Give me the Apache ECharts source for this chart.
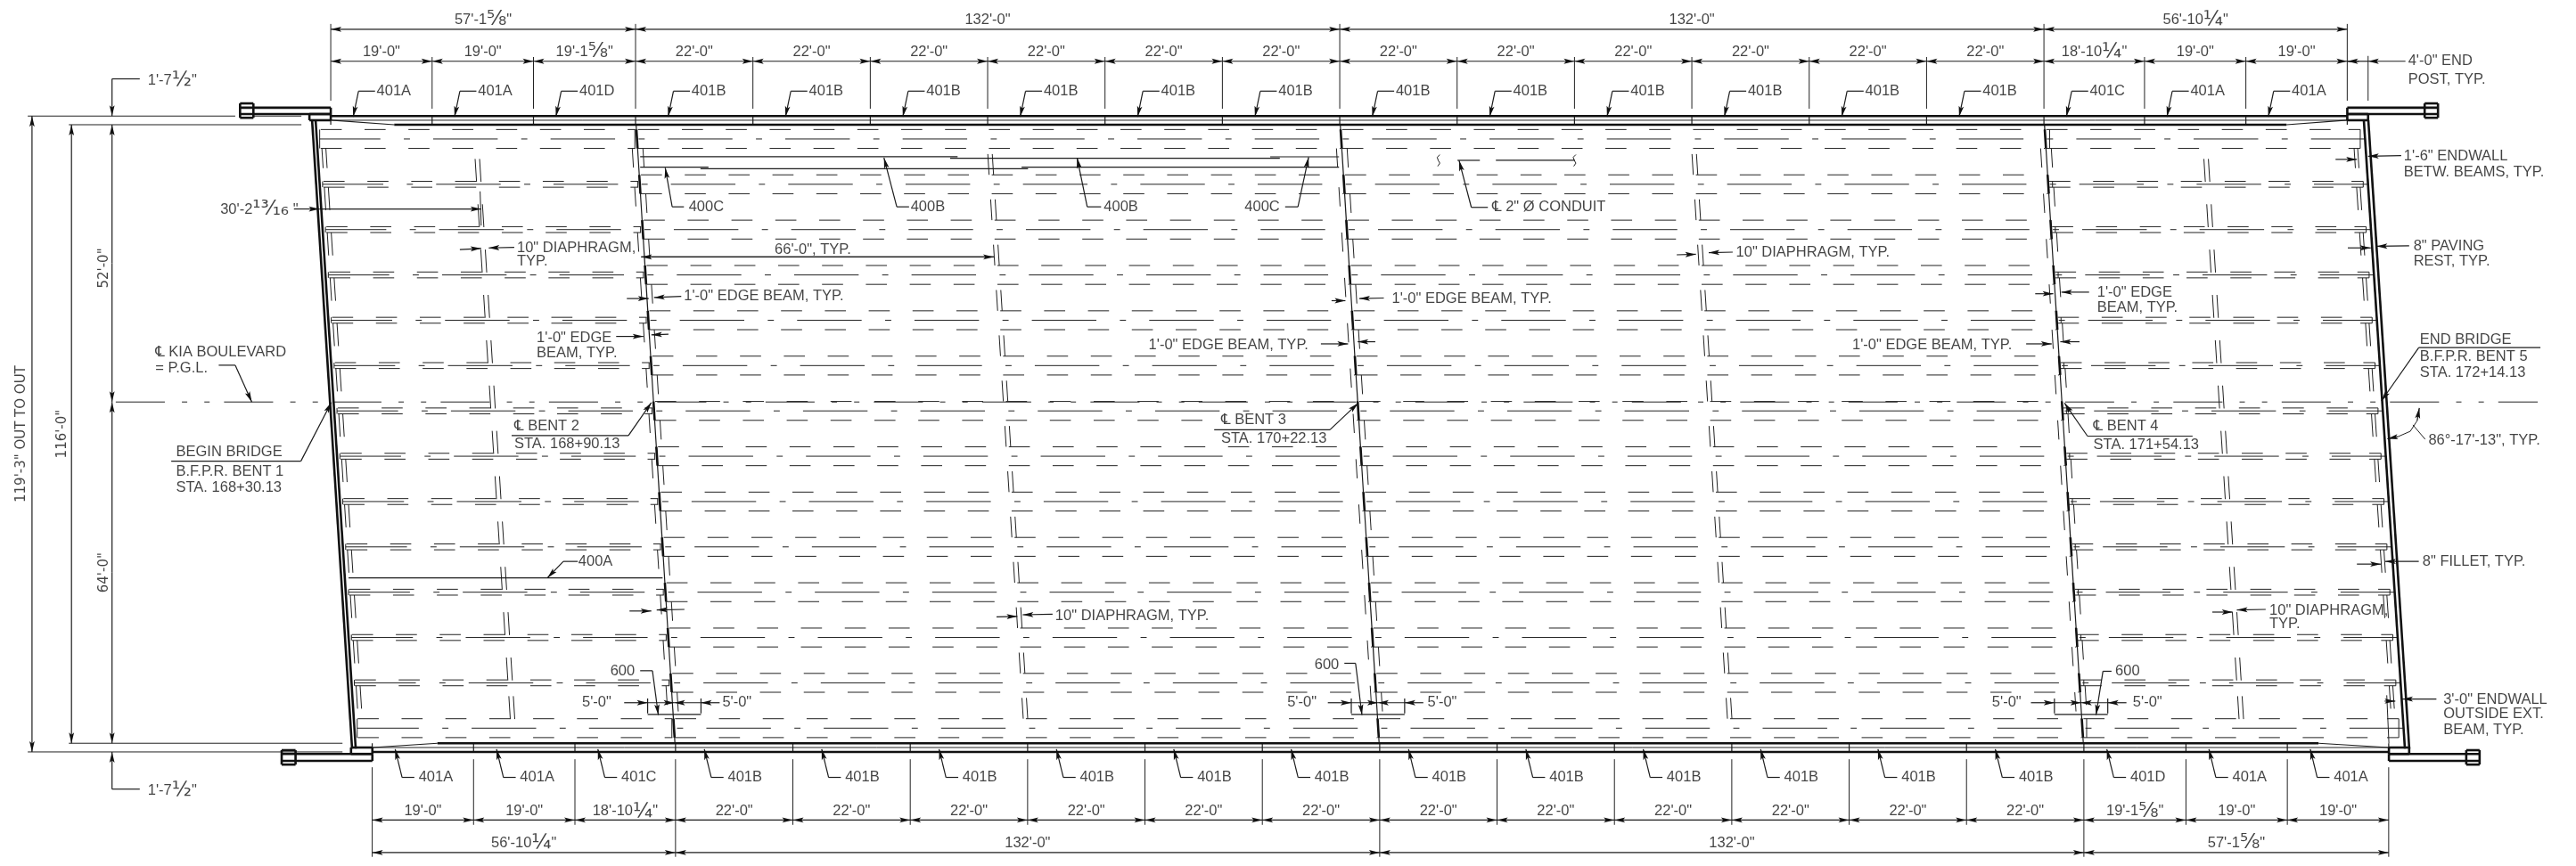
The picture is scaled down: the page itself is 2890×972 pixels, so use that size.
<!DOCTYPE html>
<html><head><meta charset="utf-8">
<style>html,body{margin:0;padding:0;background:#fff}#c{width:2890px;height:972px}</style>
<script src="https://cdn.jsdelivr.net/npm/echarts@6/dist/echarts.min.js"></script>
</head><body><div id="c"></div>
<script>
// All values are in feet on the drawing: x along the bridge from the north-west deck corner, y across it.
const topSpans=[19,19,19.135,22,22,22,22,22,22,22,22,22,22,22,22,18.854,19,19];
const bottomSpans=[19,19,18.854,22,22,22,22,22,22,22,22,22,22,22,22,19.135,19,19];
const topMarks=['401A','401A','401D','401B','401B','401B','401B','401B','401B','401B','401B','401B','401B','401B','401B','401C','401A','401A'];
const bottomMarks=['401A','401A','401C','401B','401B','401B','401B','401B','401B','401B','401B','401B','401B','401B','401B','401D','401A','401A'];
const topSpanText=['19\'-0"','19\'-0"','19\'-1⅝"','22\'-0"','22\'-0"','22\'-0"','22\'-0"','22\'-0"','22\'-0"','22\'-0"','22\'-0"','22\'-0"','22\'-0"','22\'-0"','22\'-0"','18\'-10¼"','19\'-0"','19\'-0"'];
const bottomSpanText=['19\'-0"','19\'-0"','18\'-10¼"','22\'-0"','22\'-0"','22\'-0"','22\'-0"','22\'-0"','22\'-0"','22\'-0"','22\'-0"','22\'-0"','22\'-0"','22\'-0"','22\'-0"','19\'-1⅝"','19\'-0"','19\'-0"'];
const topUnits=[57.135,132,132,56.854];
const bottomUnits=[56.854,132,132,57.135];
const topUnitText=['57\'-1⅝"','132\'-0"','132\'-0"','56\'-10¼"'];
const bottomUnitText=['56\'-10¼"','132\'-0"','132\'-0"','57\'-1⅝"'];
const bottomStart=7.77;
const bentTop=[57.135,189.135,321.135];
const bentBottom=[64.62,196.62,328.62];
const beamRows=[2.67,11.17,19.67,28.17,36.67,45.17,53.67,62.17,70.67,79.17,87.67,96.17,104.67,113.17];
const leftFace=[-3.5,4.0];
const rightFace=[381.1,388.8];
const barLines=[[58,117.5,6],[58,70.8,7.97],[69.3,130.7,8.24],[116.1,177.9,6.3],[129.5,189,7.97],[176.1,189,6.02],[3.34,62.2,85],[211.2,215.4,6.68],[218.4,233.2,6.68]];
const detailCentres=[64.4,196.3,328.1];
const detailLabels=[[47.1,108.4,'5\'-0"'],[73.4,108.4,'5\'-0"'],[179.3,108.4,'5\'-0"'],[205.6,108.4,'5\'-0"'],[311.4,108.4,'5\'-0"'],[337.8,108.4,'5\'-0"']];
const notes=[
[-34.3,-8.35,'1\'-7½"'],[-34.3,124.9,'1\'-7½"'],[-20.7,15.9,'30\'-2¹³⁄₁₆ "'],[34.9,23.1,'10" DIAPHRAGM,'],[34.9,25.6,'TYP.'],
[66.2,32.2,'1\'-0" EDGE BEAM, TYP.'],[83.2,23.4,'66\'-0", TYP.'],[38.6,40,'1\'-0" EDGE'],[38.6,42.9,'BEAM, TYP.'],
[-32.9,42.7,'℄ KIA BOULEVARD'],[-32.9,45.7,'= P.G.L.'],[34.4,56.6,'℄ BENT 2'],[34.4,59.9,'STA. 168+90.13'],
[-29,61.4,'BEGIN BRIDGE'],[-29,65,'B.F.P.R. BENT 1'],[-29,68,'STA. 168+30.13'],[46.4,82,'400A'],
[52.4,102.5,'600'],[184.4,101.4,'600'],[334.5,102.5,'600'],
[108.7,15.5,'400B'],[144.9,15.5,'400B'],[171.3,15.5,'400C'],[67.1,15.5,'400C'],[217.7,15.5,'℄ 2" Ø CONDUIT'],
[198.9,32.6,'1\'-0" EDGE BEAM, TYP.'],[153.3,41.4,'1\'-0" EDGE BEAM, TYP.'],[166.9,55.4,'℄ BENT 3'],[166.9,58.9,'STA. 170+22.13'],
[135.8,92.1,'10" DIAPHRAGM, TYP.'],[263.4,23.9,'10" DIAPHRAGM, TYP.'],
[389.4,-11.9,'4\'-0" END'],[389.4,-8.5,'POST, TYP.'],[388.6,6,'1\'-6" ENDWALL'],[388.6,8.9,'BETW. BEAMS, TYP.'],
[390.4,22.8,'8" PAVING'],[390.4,25.7,'REST, TYP.'],[331.1,31.5,'1\'-0" EDGE'],[331.1,34.4,'BEAM, TYP.'],
[285.2,41.4,'1\'-0" EDGE BEAM, TYP.'],[391.6,40.4,'END BRIDGE'],[391.6,43.6,'B.F.P.R. BENT 5'],[391.6,46.5,'STA. 172+14.13'],
[330.4,56.6,'℄ BENT 4'],[330.4,60,'STA. 171+54.13'],[393.2,59.2,'86°-17\'-13", TYP.'],[392.1,82,'8" FILLET, TYP.'],
[363.4,91.1,'10" DIAPHRAGM,'],[363.4,93.7,'TYP.'],[396,107.8,'3\'-0" ENDWALL'],[396,110.6,'OUTSIDE EXT.'],[396,113.5,'BEAM, TYP.']
];
const verticalText=[[-57.9,58,'119\'-3" OUT TO OUT'],[-50.3,58,'116\'-0"'],[-42.5,26.9,'52\'-0"'],[-42.5,84,'64\'-0"']];
const leaders=[
[[-35.8,-8.6],[-41,-8.6],[-41,-1.625]],[[-35.8,124.6],[-41,124.6],[-41,117.625]],
[[-41,26],[-41,0]],[[-41,26],[-41,52]],[[-41,84],[-41,52]],[[-41,84],[-41,116]],
[[-48.6,58],[-48.6,0]],[[-48.6,58],[-48.6,116]],[[-56,58],[-56,-1.625]],[[-56,58],[-56,117.625]],
[[-6.9,15.8],[-2.1,15.8]],[[-2.1,15.8],[28.2,15.8]],
[[24.2,23.4],[28.2,23.2]],[[34.4,23],[29.6,23.1]],[[55.5,32.6],[59.6,32.6]],[[65.7,32.2],[60.6,32.4]],
[[124.3,24.8],[58.2,24.8]],[[58.2,24.8],[124.3,24.8]],
[[53.5,39.7],[58.6,39.7]],[[63.3,39.3],[60.1,39.4]],
[[-21,45.1],[-17.9,45.1],[-14.8,52]],[[33.9,58.3],[55.8,58.3],[60.1,52.1]],[[-29.9,63.1],[-5.6,63.1],[0.1,52.1]],
[[46.3,81.9],[43.6,81.9],[40.6,85]],[[56,91.2],[60.1,91.2]],[[66.3,90.9],[61.1,91]],
[[58,102.4],[60.3,102.4],[61.4,110.7]],[[190,101],[192.1,101],[193.3,110.7]],[[333.8,102.5],[332.2,102.5],[330.9,110.7]],
[[108.4,15.4],[106.1,15.4],[103.7,6.2]],[[144.4,15.4],[141.8,15.4],[139.9,6.2]],[[178.9,15.4],[181.3,15.4],[183.3,6.1]],
[[66.2,15.4],[64,15.4],[62.7,8.1]],[[216.9,15.5],[213.8,15.5],[211.5,6.7]],
[[187.6,33],[190.2,33]],[[197.4,32.5],[192.8,32.6]],[[185.6,41.1],[190.7,41.1]],[[195.8,40.7],[192.5,40.7]],
[[165.6,57.2],[187.3,57.2],[192.6,52.2]],[[124.8,92.3],[128.7,92.2]],[[135.3,91.8],[129.7,91.9]],
[[252.3,24.4],[255.9,24.3]],[[262.8,23.9],[258.3,24]],[[388.9,-11.9],[381.9,-11.9]],[[380.2,-11.9],[378,-11.9]],
[[375.8,6.5],[379.8,6.5]],[[388.1,5.8],[381.9,5.9]],[[378.1,23.1],[382.4,23.1]],[[389.6,22.7],[383.5,22.8]],
[[319.5,31.7],[322.9,31.7]],[[329.6,31.4],[324.4,31.4]],[[317.8,41.1],[322.6,41.1]],[[327.8,40.7],[324.2,40.7]],
[[414.2,41.8],[391.4,41.8],[384.4,51.8]],[[349,58.4],[329.3,58.4],[325,52.2]],
[[387.5,58.5],[385.5,58.9]],[[391.1,55.5],[391.5,53.1]],
[[379.8,82.4],[384.3,82.4]],[[391.4,81.9],[385.1,81.9]],[[352.7,91.4],[356.5,91.4]],[[362.7,90.9],[357.3,91]],
[[385,108.1],[387,108.1]],[[394.7,107.7],[388.3,107.7]]
];
const plainLines=[
[[28,12.5],[28.2,18.9]],[[391.1,55.5],[389.8,57.5],[387.5,58.5]],[[392.6,59],[390.3,56.3]],
[[385.4,107],[385.8,116]],
[[-56.8,-1.625],[-17.9,-1.625]],[[-14.5,-1.625],[-5.5,-1.625]],[[-49.1,0],[-5.5,0]],[[-49.1,116],[2.2,116]],[[-56.8,117.625],[2.2,117.625]],
[[207.9,5.6],[207.4,6.1],[207.6,6.7],[207.9,7.2],[207.5,7.8]],[[233.4,5.6],[232.9,6.1],[233.1,6.7],[233.4,7.2],[233,7.8]]
];
const rails=[
[[-17,-3.2],[0,-3.2],[0,-2],[-17,-2]],[[-17,-4],[-14.5,-4],[-14.5,-1.3],[-17,-1.3],[-17,-4]],[[-4,-2],[0,-2],[0,-0.84],[-4,-0.84],[-4,-2]],
[[395,-3.2],[378,-3.2],[378,-2],[395,-2]],[[392.5,-4],[395,-4],[395,-1.3],[392.5,-1.3],[392.5,-4]],[[378,-2],[381.9,-2],[381.9,-0.84],[378,-0.84],[378,-2]],
[[-9.2,118],[7.8,118],[7.8,119.3],[-9.2,119.3]],[[-9.2,117.3],[-6.6,117.3],[-6.6,120],[-9.2,120],[-9.2,117.3]],[[3.8,116.8],[7.8,116.8],[7.8,118],[3.8,118],[3.8,116.8]],
[[402.8,118],[385.8,118],[385.8,119.3],[402.8,119.3]],[[400.3,117.3],[402.8,117.3],[402.8,120],[400.3,120],[400.3,117.3]],[[385.8,116.8],[389.6,116.8],[389.6,118],[385.8,118],[385.8,116.8]]
];
// Stretch of beam 7's lower flange left open for the Bent 3 note.
const noteGap={row:6,from:165.6,to:187.3};

const thin=[],mid=[],thick=[],arrows=[];
const add=(l,a,b,c,d)=>l.push([a,b,c,d]);
const poly=(l,p)=>{for(let i=1;i<p.length;i++)add(l,p[i-1][0],p[i-1][1],p[i][0],p[i][1]);};
const leader=(p)=>{poly(mid,p);const n=p.length;arrows.push([p[n-1][0],p[n-1][1],p[n-2][0],p[n-2][1]]);};
const bentAt=(i,y)=>bentTop[i]+(bentBottom[i]-bentTop[i])*(y+1.625)/119.25;
const leftAt=y=>leftFace[0]+(leftFace[1]-leftFace[0])*(y+0.84)/117.84;
const rightAt=y=>rightFace[0]+(rightFace[1]-rightFace[0])*(y+0.84)/117.84;
const clipDash=(y,a,b,anchor,pitch,len,gap)=>{
  let p=anchor-Math.ceil((anchor-a)/pitch+1)*pitch;
  for(;p<b;p+=pitch){const s=Math.max(p,a),e=Math.min(p+len,b);
    if(gap&&e>gap.from&&s<gap.to)continue;
    if(e>s)add(thin,s,y,e,y);}
};
const flangeLen=3.95,flangePitch=8.22;

beamRows.forEach((y,r)=>{
  const edgeRow=r===0||r===beamRows.length-1;
  const off=edgeRow?1.77:0.55;
  const L=leftAt(y)+1.2,R=rightAt(y)-0.9;
  const b=[bentAt(0,y),bentAt(1,y),bentAt(2,y)];
  // flange dashes
  [-1,1].forEach(sg=>{
    const gap=(r===noteGap.row&&sg===1)?noteGap:null;
    clipDash(y+sg*off,L,b[0]-0.3,b[0]-1.75,flangePitch,flangeLen);
    clipDash(y+sg*1.77,b[0]+0.2,b[1]-0.1,b[0]+0.2,flangePitch,flangeLen,gap);
    clipDash(y+sg*1.77,b[1]+0.2,b[2]-0.1,b[1]+0.2,flangePitch,flangeLen);
    clipDash(y+sg*off,b[2]+0.2,R-2.5,b[2]+0.2,flangePitch,flangeLen);
    add(thin,R-2.2,y+sg*off,R,y+sg*off);
  });
  // end closures
  add(thin,L,y-off,L,y+off);
  add(thin,R,y-off,R,y+off);
  add(thin,b[0]-0.4,y-off,b[0]-0.4,y+off);
  add(thin,b[2]+0.8,y-off,b[2]+0.8,y+off);
  // dash-dot web line
  const start=19.2+0.0652*(y-2.67);
  const endX=rightAt(y)-0.1;
  for(let k=-3;k<20;k++){
    const p=start+22*k;
    const s=Math.max(p,L),e=Math.min(p+12.1,endX);
    if(e>s)add(thin,s,y,e,y);
    const d=p+16.5;
    if(d>L&&d+1.15<endX)add(thin,d,y,d+1.15,y);
  }
  // thick bent sections through the beams
  b.forEach((x,i)=>add(thick,bentAt(i,y-1.77),y-1.77,bentAt(i,y+1.77),y+1.77));
  // lines below each beam
  if(r<beamRows.length-1){
    const y0=y+off, y1=y0+(edgeRow?3.7:4.3);
    [1.5,2.25].forEach(d=>add(thin,leftAt(y0)+d,y0,leftAt(y1)+d,y1));
    [-2.17,-1.5].forEach(d=>add(thin,rightAt(y0)+d,y0,rightAt(y1)+d,y1));
    const next=beamRows[r+1];
    const lastGap=r===beamRows.length-2;
    b.forEach((_,i)=>{
      const ly0=i===2?y+1.77:y+off, ly1=ly0+3.6;
      add(thin,bentAt(i,ly0)-1,ly0,bentAt(i,ly1)-1,ly1);
      const ry0=i===2?y+off:y+1.77, ry1=ry0+3.6;
      add(thin,bentAt(i,ry0)+1,ry0,bentAt(i,ry1)+1,ry1);
    });
    // diaphragms
    const ye=next-(lastGap?1.7:0.45), ys=ye-4.3;
    const ye2=next-1.77, ys2=ye2-3.9;
    [-0.42,0.42].forEach(d=>{
      add(thin,bentAt(0,ys)-30.16+d,ys,bentAt(0,ye)-30.16+d,ye);
      add(thin,bentAt(0,ys2)+66+d,ys2,bentAt(0,ye2)+66+d,ye2);
      add(thin,bentAt(1,ys2)+66+d,ys2,bentAt(1,ye2)+66+d,ye2);
      add(thin,bentAt(2,ys)+29.9+d,ys,bentAt(2,ye)+29.9+d,ye);
    });
  }
});
// profile grade line
for(let k=-3;k<22;k++){
  const p=0.3+20.3*k;
  [[p,p+9.2],[p+12.4,p+13.4],[p+16.6,p+17.6]].forEach(s=>{
    const a=Math.max(s[0],-41.9),e=Math.min(s[1],413.7);
    if(e>a)add(thin,a,52,e,52);
  });
}
// bents and abutments
bentTop.forEach((x,i)=>add(mid,bentAt(i,-0.1),-0.1,bentAt(i,116),116));
add(thick,leftFace[0],-0.84,leftFace[1],117);add(thick,leftFace[0]+0.66,-0.84,leftFace[1]+0.68,117);
add(thick,rightFace[0],-0.84,rightFace[1],117);add(thick,rightFace[0]+0.84,-0.84,rightFace[1]+0.82,117);
// deck edges
add(thick,0,-1.625,378,-1.625);add(thin,0,-0.84,378,-0.84);add(thick,11.9,0,366.6,0);add(mid,0,-0.84,11.9,0);add(mid,366.6,0,378,-0.84);
add(thick,20,116,372.6,116);add(thin,7.8,116.8,385.8,116.8);add(thick,7.8,117.625,385.8,117.625);add(mid,7.8,116.8,20,116);add(mid,372.6,116,385.8,116.8);
rails.forEach(p=>poly(thick,p));
barLines.forEach(b=>add(mid,b[0],b[2],b[1],b[2]));
plainLines.forEach(p=>poly(thin,p));
leaders.forEach(leader);

// dimension strings and mark callouts
const spanLabels=[],unitLabels=[],leftLabels=notes.concat(detailLabels);
function dims(spans,start,units,spanTxt,unitTxt,marks,cfg){
  let x=start,u=start,xs=[start];
  spans.forEach((s,i)=>{
    add(mid,x,cfg.subY,x+s,cfg.subY);
    arrows.push([x,cfg.subY,x+s,cfg.subY],[x+s,cfg.subY,x,cfg.subY]);
    spanLabels.push([x+s/2,cfg.subT,spanTxt[i]]);
    const tip=x+(s<20?cfg.tipA:cfg.tipB);
    poly(mid,[[tip+cfg.endDx,cfg.markY],[tip+cfg.elbowDx,cfg.markY],[tip,cfg.tipY]]);
    arrows.push([tip,cfg.tipY,tip+cfg.elbowDx,cfg.markY]);
    leftLabels.push([tip+4.4,cfg.markY,marks[i]]);
    x+=s;xs.push(x);
  });
  const unitX=[start];
  units.forEach((w,i)=>{
    add(mid,u,cfg.mainY,u+w,cfg.mainY);
    arrows.push([u,cfg.mainY,u+w,cfg.mainY],[u+w,cfg.mainY,u,cfg.mainY]);
    unitLabels.push([u+w/2,cfg.mainT,unitTxt[i]]);
    u+=w;unitX.push(u);
  });
  xs.forEach((t,i)=>{
    const major=unitX.some(v=>Math.abs(v-t)<0.01),end=i===0||i===xs.length-1;
    add(thin,t,end?cfg.extE:cfg.extS,t,major?cfg.extM:cfg.extT);
    add(mid,t,cfg.bandA,t,cfg.bandB);
  });
}
dims(topSpans,0,topUnits,topSpanText,topUnitText,topMarks,{subY:-11.9,subT:-13.7,mainY:-17.9,mainT:-19.7,tipA:4.2,tipB:6.1,elbowDx:1,endDx:4.1,markY:-6.3,tipY:-1.5,extS:-3,extE:-4.5,extM:-18.9,extT:-12.7,bandA:-1.625,bandB:0});
dims(bottomSpans,bottomStart,bottomUnits,bottomSpanText,bottomUnitText,bottomMarks,{subY:130.4,subT:128.8,mainY:136.5,mainT:134.7,tipA:4.3,tipB:5.4,elbowDx:1.3,endDx:3.6,markY:122.4,tipY:117.1,extS:119,extE:120.5,extM:137.3,extT:131.3,bandA:116,bandB:117.625});
add(thin,381.9,-12.9,381.9,-4.5);
add(mid,378,-11.9,381.9,-11.9);
// bent reinforcement details
detailCentres.forEach(c=>{
  add(mid,c-5,108.4,c+5,108.4);
  add(mid,c-9.4,108.4,c-5,108.4);add(mid,c+5,108.4,c+8.5,108.4);
  add(mid,c-5,107.6,c-5,110.4);add(mid,c+5,107.6,c+5,110.4);
  add(mid,c-5,110.6,c+5,110.6);
  arrows.push([c-5,108.4,c-9.4,108.4],[c+5,108.4,c+8.5,108.4],[c,108.4,c-3,108.4],[c,108.4,c+3,108.4]);
});

const segSeries=(data,w,color)=>({type:'custom',coordinateSystem:'cartesian2d',clip:false,silent:true,animation:false,
  encode:{x:[0,2],y:[1,3]},data:data,
  renderItem:(p,api)=>{const a=api.coord([api.value(0),api.value(1)]),b=api.coord([api.value(2),api.value(3)]);
    return {type:'line',shape:{x1:a[0],y1:a[1],x2:b[0],y2:b[1]},style:{stroke:color,lineWidth:w,fill:null}};}});
const arrowSeries={type:'custom',coordinateSystem:'cartesian2d',clip:false,silent:true,animation:false,
  encode:{x:[0,2],y:[1,3]},data:arrows,
  renderItem:(p,api)=>{const t=api.coord([api.value(0),api.value(1)]),f=api.coord([api.value(2),api.value(3)]);
    let dx=f[0]-t[0],dy=f[1]-t[1];const d=Math.hypot(dx,dy)||1;dx/=d;dy/=d;
    const L=12,H=2.9,bx=t[0]+dx*L,by=t[1]+dy*L,nx=t[0]+dx*(L-2.5),ny=t[1]+dy*(L-2.5);
    return {type:'polygon',shape:{points:[t,[bx-dy*H,by+dx*H],[nx,ny],[bx+dy*H,by-dx*H]]},style:{fill:'#111',stroke:null}};}};
const textColor='#141414';
const textSeries=(data,label)=>({type:'scatter',symbolSize:0,silent:true,animation:false,clip:false,data:data,
  labelLayout:{hideOverlap:false},
  label:Object.assign({show:true,color:textColor,fontFamily:'"Liberation Sans","DejaVu Sans",sans-serif',fontSize:16.5,
    rich:{f:{fontSize:23,color:textColor,fontFamily:'"DejaVu Sans",sans-serif'}},
    formatter:p=>String(p.data[2]).replace(/[⅝¼½]|¹³⁄₁₆/g,'{f|$&}')},label)});

const chart=echarts.init(document.getElementById('c'),null,{renderer:'canvas'});
chart.setOption({
  animation:false,backgroundColor:'#fff',tooltip:{show:false},legend:{show:false},
  grid:{left:0,right:0,top:0,bottom:0,containLabel:false},
  xAxis:{type:'value',min:-62,max:420.87,show:false},
  yAxis:{type:'value',min:-23.39,max:139.02,inverse:true,show:false},
  series:[
    segSeries(thin,1,'#222'),segSeries(mid,1.2,'#1c1c1c'),segSeries(thick,2.6,'#111'),arrowSeries,
    textSeries(leftLabels,{position:'right',distance:0,align:'left'}),
    textSeries(spanLabels,{position:'inside',align:'center'}),
    textSeries(unitLabels,{position:'inside',align:'center'}),
    textSeries(verticalText,{position:'inside',rotate:90,align:'center',fontFamily:'"DejaVu Sans",sans-serif',fontSize:15})
  ]
});
</script></body></html>
